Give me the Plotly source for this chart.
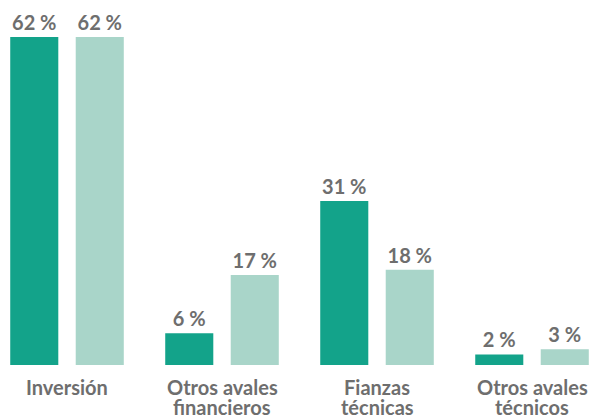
import plotly.graph_objects as go

categories = ["Inversión", "Otros avales<br>financieros", "Fianzas<br>técnicas", "Otros avales<br>técnicos"]
serie_a = [62, 6, 31, 2]
serie_b = [62, 17, 18, 3]

DARK = "#13a38a"
LIGHT = "#a9d5c9"
TXT = "#6e6e6e"
FONT = "Lato"

xs = list(range(len(categories)))

fig = go.Figure()
for vals, col in [(serie_a, DARK), (serie_b, LIGHT)]:
    fig.add_trace(go.Bar(
        x=xs, y=vals, marker=dict(color=col, line=dict(width=0)),
        text=[f"{v} %" for v in vals], textposition="outside",
        textfont=dict(family=FONT, size=20, color=TXT, weight="bold"),
        cliponaxis=False, hoverinfo="skip",
    ))

# category labels, one annotation per line for tight line spacing
for xi, lab in zip(xs, categories):
    for li, line in enumerate(lab.split("<br>")):
        fig.add_annotation(
            x=xi, xref="x", y=0, yref="paper", yanchor="middle", xanchor="center",
            yshift=-22 - 20 * li, text=line, showarrow=False,
            font=dict(family=FONT, size=20, color=TXT, weight="bold"),
        )

fig.update_layout(
    width=592, height=415,
    margin=dict(l=0, r=0, t=0, b=50),
    paper_bgcolor="white", plot_bgcolor="white",
    barmode="group", bargap=0.155, bargroupgap=0.266,
    showlegend=False,
    xaxis=dict(range=[-0.4323, 3.3870], showticklabels=False,
               showgrid=False, zeroline=False, showline=False, ticks=""),
    yaxis=dict(range=[0, 69.0], visible=False),
)
fig.write_html(
    "out.html",
    config={"displayModeBar": False},
    post_script="document.body.style.margin='0';document.body.style.overflow='hidden';",
)
